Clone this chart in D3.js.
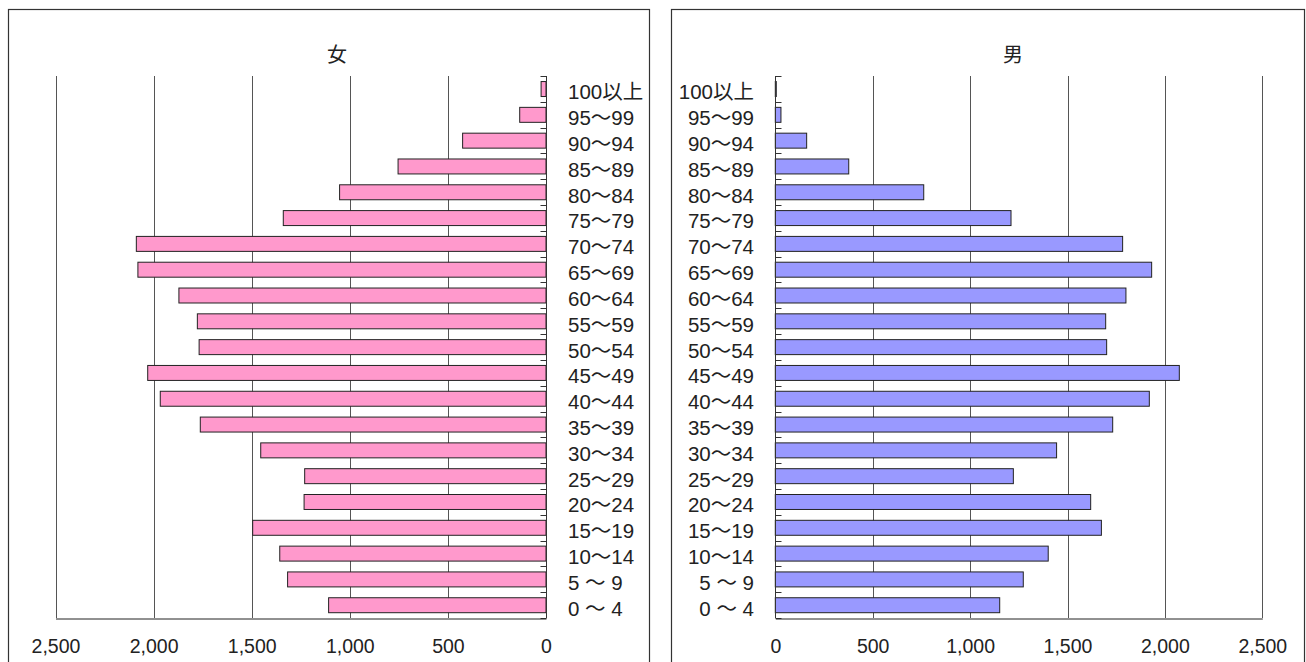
<!DOCTYPE html>
<html>
<head>
<meta charset="utf-8">
<script src="https://cdn.jsdelivr.net/npm/d3@7"></script>
<style>
  html, body { margin: 0; padding: 0; background: #fff; }
  svg { display: block; font-family: "Liberation Sans", "Noto Sans CJK JP", sans-serif; }
</style>
</head>
<body>
<svg id="chart" width="1306" height="662"></svg>
<script>
// Age groups, oldest at the top
const ageGroups = ["100以上", "95～99", "90～94", "85～89", "80～84", "75～79", "70～74",
  "65～69", "60～64", "55～59", "50～54", "45～49", "40～44", "35～39", "30～34",
  "25～29", "20～24", "15～19", "10～14", "5 ～ 9", "0 ～ 4"];

// Population by age group (same order as ageGroups)
const female = [25, 134, 425, 754, 1052, 1339, 2088, 2080, 1871, 1777, 1768,
  2030, 1966, 1762, 1454, 1230, 1233, 1495, 1357, 1317, 1108];
const male = [5, 29, 161, 377, 762, 1210, 1783, 1932, 1800, 1696, 1701,
  2074, 1920, 1732, 1444, 1222, 1619, 1674, 1401, 1273, 1152];

const xTicks = [0, 500, 1000, 1500, 2000, 2500];
const panelTitles = ["女", "男"];

const svg = d3.select("#chart");
const fmt = d3.format(",");
const plotTop = 76, plotBottom = 618;
const textFont = "'Liberation Sans', 'Noto Sans CJK JP', sans-serif";

const y = d3.scaleBand().domain(ageGroups).range([plotTop, plotBottom]).padding(0);
const barInset = 0.215, barFrac = 0.58;

const panels = [
  { title: panelTitles[0], data: female, fill: "#ff99cc",
    frame: [8, 9, 641], x: d3.scaleLinear().domain([0, 2500]).range([546, 55.5]),
    titleX: 337, labelX: 568, labelAnchor: "start", tickDir: -1 },
  { title: panelTitles[1], data: male, fill: "#9999ff",
    frame: [671, 9, 633], x: d3.scaleLinear().domain([0, 2500]).range([775.3, 1262.3]),
    titleX: 1013, labelX: 754, labelAnchor: "end", tickDir: 1 }
];

panels.forEach(p => {
  const g = svg.append("g");
  const x = p.x;
  const x0 = Math.round(x(0)) + 0.5;

  // panel frame (bottom edge runs past the viewport)
  g.append("rect")
    .attr("x", p.frame[0] + 0.5).attr("y", p.frame[1] + 0.5)
    .attr("width", p.frame[2]).attr("height", 700)
    .attr("fill", "none").attr("stroke", "#333").attr("stroke-width", 1.2);

  // title
  g.append("text").attr("x", p.titleX).attr("y", 55)
    .attr("text-anchor", "middle").attr("dominant-baseline", "central")
    .attr("font-size", 20).attr("fill", "#222").text(p.title);

  // vertical gridlines
  g.selectAll(".grid").data(xTicks.filter(d => d > 0)).enter().append("line")
    .attr("x1", d => Math.round(x(d)) + 0.5).attr("x2", d => Math.round(x(d)) + 0.5)
    .attr("y1", plotTop).attr("y2", plotBottom)
    .attr("stroke", "#555").attr("stroke-width", 1);

  // bars
  g.selectAll(".bar").data(p.data).enter().append("rect")
    .attr("x", d => Math.min(x(0), x(d)))
    .attr("width", d => Math.abs(x(d) - x(0)))
    .attr("y", (d, i) => y(ageGroups[i]) + y.bandwidth() * barInset)
    .attr("height", y.bandwidth() * barFrac)
    .attr("fill", p.fill).attr("stroke", "#222").attr("stroke-width", 1);

  // category axis: line and band-boundary ticks
  g.append("line").attr("x1", x0).attr("x2", x0)
    .attr("y1", plotTop).attr("y2", plotBottom)
    .attr("stroke", "#333").attr("stroke-width", 1);
  const bounds = ageGroups.map(c => y(c)).concat([plotBottom]);
  g.selectAll(".ytick").data(bounds).enter().append("line")
    .attr("x1", x0).attr("x2", x0 + p.tickDir * 6)
    .attr("y1", d => Math.round(d) + 0.5).attr("y2", d => Math.round(d) + 0.5)
    .attr("stroke", "#333").attr("stroke-width", 1);

  // category labels
  g.selectAll(".cat").data(ageGroups).enter().append("text")
    .attr("x", p.labelX)
    .attr("y", d => y(d) + y.bandwidth() / 2 + 3)
    .attr("text-anchor", p.labelAnchor).attr("dominant-baseline", "central")
    .attr("font-size", 20.5).attr("fill", "#222")
    .style("white-space", "pre")
    .text(d => d);

  // value axis
  const axis = d3.axisBottom(x).tickValues(xTicks).tickFormat(fmt).tickSize(0).tickPadding(0);
  const ag = g.append("g").attr("transform", `translate(0,${plotBottom + 0.5})`).call(axis);
  ag.select(".domain").attr("stroke", "#222").attr("stroke-width", 1);
  ag.selectAll("text").attr("font-size", 19.5).attr("fill", "#222")
    .attr("font-family", textFont)
    .attr("dy", null).attr("y", 27).attr("dominant-baseline", "central");
});
</script>
</body>
</html>
